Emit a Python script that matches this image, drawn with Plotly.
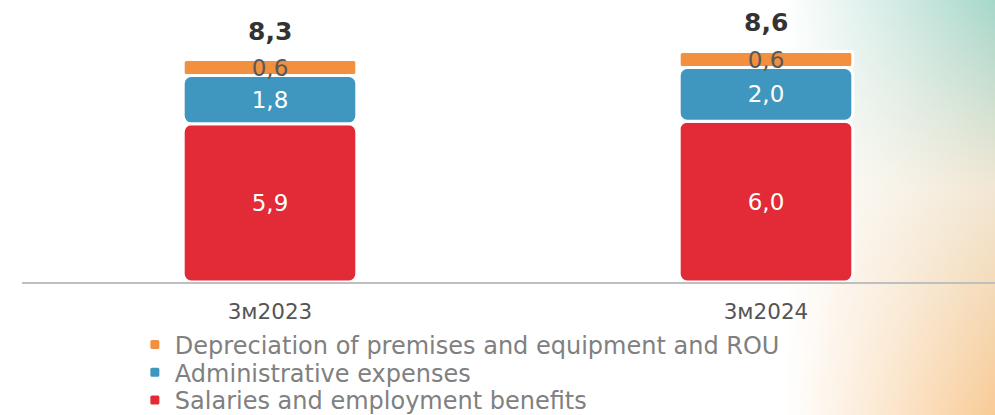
import base64
import plotly.graph_objects as go

categories = ["3м2023", "3м2024"]
salaries = [5.9, 6.0]
admin = [1.8, 2.0]
depreciation = [0.6, 0.6]
totals = [8.3, 8.6]
series_names = ["Salaries and employment benefits", "Administrative expenses",
                "Depreciation of premises and equipment and ROU"]

def fmt(v):
    return f"{v:.1f}".replace(".", ",")

# background gradient (right side)
svg = """<svg xmlns='http://www.w3.org/2000/svg' width='995' height='415' viewBox='0 0 995 415' preserveAspectRatio='none'>
<defs>
<linearGradient id='v' x1='0' y1='0' x2='0' y2='1'>
<stop offset='0' stop-color='#a6d7cb'/>
<stop offset='0.45' stop-color='#f1e7d4'/>
<stop offset='1' stop-color='#f9cb96'/>
</linearGradient>
<linearGradient id='h' x1='0' y1='0' x2='1' y2='0'>
<stop offset='0' stop-color='#ffffff' stop-opacity='1'/>
<stop offset='0.79' stop-color='#ffffff' stop-opacity='1'/>
<stop offset='0.9' stop-color='#ffffff' stop-opacity='0.5'/>
<stop offset='1' stop-color='#ffffff' stop-opacity='0'/>
</linearGradient>
</defs>
<rect width='995' height='415' fill='url(#v)'/>
<rect width='995' height='415' fill='url(#h)'/>
</svg>"""
src = "data:image/svg+xml;base64," + base64.b64encode(svg.encode()).decode()

base_admin = salaries
base_dep = [s + a for s, a in zip(salaries, admin)]

FONT = "DejaVu Sans"
fig = go.Figure()
fig.add_trace(go.Bar(
    x=categories, y=salaries, base=[0, 0], name=series_names[0],
    marker=dict(color="#e22b37", line=dict(color="white", width=3), cornerradius=8),
    text=[fmt(v) for v in salaries], textposition="inside", insidetextanchor="middle",
    insidetextfont=dict(color="white", size=23, family=FONT), constraintext="none",
    width=0.35, legend="legend3",
))
fig.add_trace(go.Bar(
    x=categories, y=admin, base=base_admin, name=series_names[1],
    marker=dict(color="#3f97bf", line=dict(color="white", width=3), cornerradius=8),
    text=[fmt(v) for v in admin], textposition="inside", insidetextanchor="middle",
    insidetextfont=dict(color="white", size=23, family=FONT), constraintext="none",
    width=0.35, legend="legend2",
))
fig.add_trace(go.Bar(
    x=categories, y=depreciation, base=base_dep, name=series_names[2],
    marker=dict(color="#f29040", line=dict(color="white", width=3), cornerradius=3),
    text=[fmt(v) for v in depreciation], textposition="inside", insidetextanchor="middle",
    insidetextfont=dict(color="#595959", size=23, family=FONT), constraintext="none",
    width=0.35, legend="legend",
))

for c, t in zip(categories, totals):
    fig.add_annotation(x=c, y=t, text=f"<b>{fmt(t)}</b>", showarrow=False,
                       yanchor="bottom", yshift=12,
                       font=dict(size=25, color="#333333", family=FONT))

leg_common = dict(orientation="v", x=0.116, xanchor="left", yanchor="middle",
                  font=dict(size=24, color="#808080", family=FONT),
                  bgcolor="rgba(0,0,0,0)", borderwidth=0)

fig.update_layout(
    width=995, height=415,
    margin=dict(l=22, r=0, t=0, b=133, autoexpand=False),
    barmode="overlay",
    paper_bgcolor="white", plot_bgcolor="rgba(0,0,0,0)",
    images=[dict(source=src, xref="paper", yref="paper", x=-22/973, y=1,
                 sizex=995/973, sizey=415/282, xanchor="left", yanchor="top",
                 sizing="stretch", layer="below")],
    showlegend=True,
    legend=dict(y=-0.2234, **leg_common),
    legend2=dict(y=-0.3216, **leg_common),
    legend3=dict(y=-0.4195, **leg_common),
    font=dict(family=FONT),
)
fig.update_xaxes(range=[-0.5, 1.4617], showline=True, linecolor="#bfbfbf", linewidth=2,
                 showgrid=False, zeroline=False, ticks="", ticklabelstandoff=9,
                 tickfont=dict(size=21.5, color="#555555", family=FONT))
fig.update_yaxes(range=[0, 10.52], visible=False, showgrid=False, zeroline=False)

fig.write_html("out.html")
